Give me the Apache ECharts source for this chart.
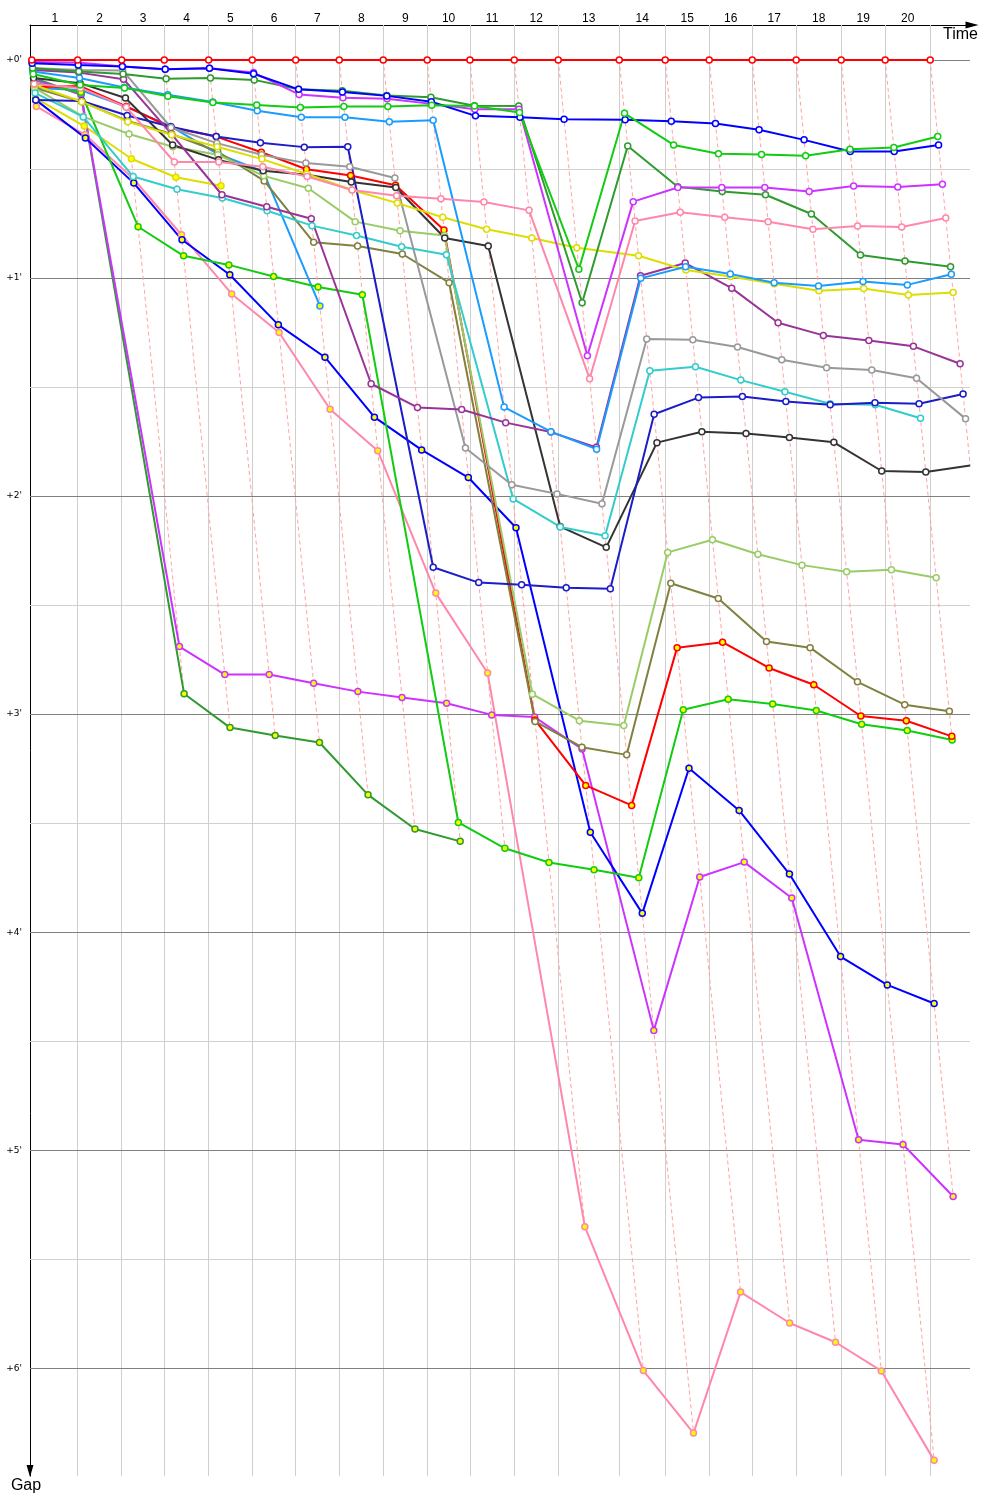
<!DOCTYPE html>
<html><head><meta charset="utf-8">
<script src="https://cdn.jsdelivr.net/npm/echarts@6/dist/echarts.min.js"></script>
<style>html,body{margin:0;padding:0;background:#fff}#c{width:1000px;height:1500px}</style>
</head><body><div id="c"></div>
<script>
// Leader's elapsed time (s) at the end of each lap (lap 0 = start)
const lapTimes = [0, 128.2, 251.1, 370.1, 494.1, 615.9, 737.2, 858.9, 981.8, 1104.7, 1224.0,
  1347.8, 1470.7, 1641.1, 1769.6, 1892.5, 2012.6, 2135.5, 2261.2, 2384.1, 2509.8];
const lapLabels = ['1','2','3','4','5','6','7','8','9','10','11','12','13','14','15','16','17','18','19','20'];
const minuteTicks = [0, 60, 120, 180, 240, 300, 360];
const minuteLabels = ["+0'", "+1'", "+2'", "+3'", "+4'", "+5'", "+6'"];
const halfMinuteTicks = [30, 90, 150, 210, 270, 330];

// Gap to leader (s), per lap, for each car
const gapLeader     = [0,0,0,0,0,0,0,0,0,0,0,0,0,0,0,0,0,0,0,0,0];
const gapGreen      = [3.9,6.9,7.7,10.0,11.7,12.4,13.1,12.8,12.8,12.5,12.7,14.5,57.6,14.7,23.4,25.8,26.0,26.4,24.6,24.1,21.1];
const gapBlue       = [0.9,1.4,1.8,2.6,2.3,3.8,8.1,8.8,9.9,11.5,15.4,15.8,16.3,16.5,16.9,17.5,19.2,22.0,25.2,25.2,23.4];
const gapViolet     = [0.6,0.7,1.8,2.6,2.3,3.5,9.5,10.4,10.7,12.1,13.6,13.6,81.4,39.0,35.1,35.1,35.1,36.2,34.7,35.0,34.2];
const gapPink       = [6.6,7.7,13.0,28.1,28.1,29.4,32.1,35.8,37.4,38.2,39.1,41.4,87.7,44.3,41.9,43.3,44.5,46.6,45.7,46.0,43.5];
const gapDarkGreen  = [2.3,3.2,3.9,5.2,5.0,5.5,8.1,8.5,9.8,10.3,12.6,12.7,66.8,23.7,34.9,36.2,37.1,42.4,53.7,55.3,56.9];
const gapSky        = [3.2,5.0,7.6,9.6,11.6,14.0,15.8,15.8,17.0,16.6,95.5,102.3,107.1,60.1,56.9,58.9,61.3,62.2,61.0,61.9,59.0];
const gapYellow     = [6.9,11.5,17.0,20.6,23.9,27.3,31.4,35.8,39.4,43.3,46.6,49.0,51.7,53.9,57.8,59.6,61.6,63.5,62.9,64.7,64.0];
const gapPurple     = [2.8,3.5,5.3,20.4,37.1,40.4,43.7,89.1,95.6,96.2,99.8,102.4,106.6,59.4,55.9,62.8,72.3,75.8,77.2,78.8,83.6];
const gapGray       = [2.2,2.8,2.9,18.6,22.9,26.1,28.4,29.4,32.5,106.8,116.9,119.4,122.1,76.8,77.0,79.0,82.5,84.7,85.3,87.6,98.7];
const gapNavy       = [11.0,11.3,15.3,18.4,21.1,22.8,24.0,23.9,139.6,143.8,144.4,145.2,145.5,97.5,92.9,92.6,94.0,94.9,94.3,94.6,91.9];
const gapCyan       = [9.1,15.7,32.1,35.6,38.0,41.5,45.6,48.3,51.4,53.6,120.8,128.5,130.9,85.5,84.4,88.1,91.3,94.6,94.9,98.6];
const gapBlack      = [5.0,6.4,10.5,23.4,27.5,30.5,31.6,33.6,35.1,49.0,51.2,128.4,134.1,105.3,102.3,102.8,103.9,105.2,113.1,113.4,111.6];
const gapLightGreen = [7.7,15.6,20.4,23.9,26.1,31.9,35.3,44.5,47.0,48.3,174.5,181.8,183.1,135.5,132.0,136.0,139.0,140.8,140.3,142.5];
const gapOlive      = [7.7,11.5,16.8,20.4,25.2,33.3,50.2,51.2,53.4,61.3,182.0,189.1,191.2,144.0,148.2,160.0,161.7,171.1,177.4,179.2];
const gapRed2       = [7.5,7.2,12.8,18.6,21.1,25.4,30.1,31.8,34.5,46.8,181.6,199.6,205.1,161.7,160.2,167.3,171.9,180.5,181.8,186.1];
const gapGreen2     = [6.3,8.9,45.9,53.9,56.4,59.6,62.5,64.6,209.8,216.9,220.8,222.8,225.0,178.8,175.9,177.2,179.0,182.8,184.5,187.1];
const gapBlue2      = [11.0,21.5,33.9,49.5,59.1,72.9,81.8,98.3,107.3,114.9,128.7,212.5,234.8,194.9,206.5,224.0,246.7,254.5,259.6];
const gapViolet2    = [5.5,9.4,161.4,169.1,169.1,171.5,173.8,175.4,177.0,180.2,180.8,189.6,267.0,224.8,220.7,230.6,297.1,298.4,312.7];
const gapPink2      = [12.8,20.6,32.7,48.1,64.4,75.0,96.1,107.5,146.7,168.7,321.0,360.6,377.8,339.0,347.5,352.8,360.7,385.3];
const gapSky2       = [7.7,8.3,12.9,18.3,25.9,30.7,67.7];
const gapYellow2    = [10.5,18.2,27.2,32.3,34.6];
const gapDarkGreen2 = [5.0,9.6,174.4,183.7,185.9,187.8,202.2,211.6,215.0];

const X_MIN = -5, X_MAX = 2621, Y_MIN = -9.6, Y_MAX = 389.6;
const WHITE = '#ffffff', YEL = '#ffff00';
const cars = [
  { gaps: gapDarkGreen2, color: '#2f9a2f', fill: YEL },
  { gaps: gapYellow2,    color: '#dddd00', fill: YEL },
  { gaps: gapSky2,       color: '#1a9cff', fill: YEL },
  { gaps: gapPink2,      color: '#ff88aa', fill: YEL },
  { gaps: gapViolet2,    color: '#cc33ff', fill: YEL },
  { gaps: gapBlue2,      color: '#0000ff', fill: YEL },
  { gaps: gapGreen2,     color: '#11cc11', fill: YEL },
  { gaps: gapRed2,       color: '#ff0000', fill: YEL },
  { gaps: gapOlive,      color: '#808040', fill: WHITE },
  { gaps: gapLightGreen, color: '#99cc66', fill: WHITE },
  { gaps: gapBlack,      color: '#333333', fill: WHITE },
  { gaps: gapCyan,       color: '#33cccc', fill: WHITE },
  { gaps: gapNavy,       color: '#1c1cc8', fill: WHITE },
  { gaps: gapGray,       color: '#999999', fill: WHITE },
  { gaps: gapPurple,     color: '#993399', fill: WHITE },
  { gaps: gapYellow,     color: '#dddd00', fill: WHITE },
  { gaps: gapSky,        color: '#1a9cff', fill: WHITE },
  { gaps: gapDarkGreen,  color: '#2f9a2f', fill: WHITE },
  { gaps: gapPink,       color: '#ff88aa', fill: WHITE },
  { gaps: gapViolet,     color: '#cc33ff', fill: WHITE },
  { gaps: gapBlue,       color: '#0000ff', fill: WHITE },
  { gaps: gapGreen,      color: '#11cc11', fill: WHITE },
  { gaps: gapLeader,     color: '#ff0000', fill: WHITE }
];

const lapMid = lapLabels.map((_, i) => (lapTimes[i] + lapTimes[i + 1]) / 2);

const series = [];
// grid lines
series.push({ type: 'lines', coordinateSystem: 'cartesian2d', silent: true, z: 1,
  lineStyle: { color: '#cfcfcf', width: 1, opacity: 1 },
  data: lapTimes.slice(1).map(t => ({ coords: [[t, Y_MIN], [t, Y_MAX]] })) });
series.push({ type: 'lines', coordinateSystem: 'cartesian2d', silent: true, z: 1,
  lineStyle: { color: '#d0d0d0', width: 1, opacity: 1 },
  data: halfMinuteTicks.map(v => ({ coords: [[X_MIN, v], [X_MAX, v]] })) });
series.push({ type: 'lines', coordinateSystem: 'cartesian2d', silent: true, z: 1,
  lineStyle: { color: '#808080', width: 1, opacity: 1 },
  data: minuteTicks.map(v => ({ coords: [[X_MIN, v], [X_MAX, v]] })) });

// same-lap connectors
const lapLines = lapTimes.map((t, k) => {
  const pts = cars.filter(c => c.gaps.length > k).map(c => c.gaps[k]).sort((a, b) => a - b);
  return { coords: pts.map(g => [t + g, g]) };
});
series.push({ type: 'lines', coordinateSystem: 'cartesian2d', polyline: true, silent: true, z: 2,
  lineStyle: { color: '#ffa3a3', width: 1, type: [4, 3], opacity: 1 }, data: lapLines });

cars.forEach((c) => {
  series.push({
    type: 'line', silent: true, z: 3 + (c.gaps === gapLeader ? 1 : 0),
    data: c.gaps.map((g, k) => [lapTimes[k] + g, g]),
    symbol: 'circle', symbolSize: 6, showSymbol: true,
    lineStyle: { color: c.color, width: 2 },
    itemStyle: { color: c.fill, borderColor: c.color, borderWidth: 1.5 },
    emphasis: { disabled: true }
  });
});

const chart = echarts.init(document.getElementById('c'), null, { renderer: 'canvas' });
chart.setOption({
  animation: false,
  backgroundColor: '#ffffff',
  title: { text: 'Time', right: 22, top: 27, padding: 0,
    textStyle: { fontSize: 16, fontWeight: 'normal', fontFamily: 'Liberation Sans', color: '#000' } },
  grid: { left: 30, right: 30, top: 25, bottom: 24, containLabel: false },
  xAxis: {
    type: 'value', position: 'top', min: X_MIN, max: X_MAX,
    axisLine: { show: true, onZero: false, lineStyle: { color: '#000', width: 1 }, symbol: ['none', 'triangle'], symbolSize: [7, 13], symbolOffset: [0, 2] },
    axisTick: { show: false }, splitLine: { show: false },
    axisLabel: { customValues: lapMid, formatter: v => lapLabels[lapMid.indexOf(v)] || '', fontSize: 12,
      fontFamily: 'Liberation Sans', color: '#000', margin: 0 }
  },
  yAxis: {
    type: 'value', inverse: true, min: Y_MIN, max: Y_MAX,
    axisLine: { show: true, onZero: false, lineStyle: { color: '#000', width: 1 }, symbol: ['triangle', 'none'], symbolSize: [7, 12], symbolOffset: [5, 0] },
    axisTick: { show: false }, splitLine: { show: false },
    axisLabel: { customValues: minuteTicks, formatter: v => minuteLabels[minuteTicks.indexOf(v)] || '', fontSize: 9,
      fontFamily: 'DejaVu Sans', color: '#000', margin: 8 },
    name: 'Gap', nameLocation: 'end', nameGap: 2, nameMoveOverlap: false,
    nameTextStyle: { fontSize: 16, fontFamily: 'Liberation Sans', color: '#000', align: 'center', verticalAlign: 'top', padding: [0, 8, 0, 0] }
  },
  series: series
});
</script></body></html>
